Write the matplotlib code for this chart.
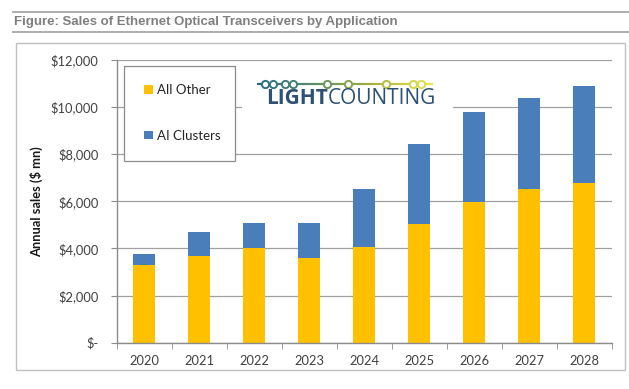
import matplotlib
matplotlib.use("Agg")
import matplotlib.pyplot as plt
from matplotlib.patches import Rectangle, Patch
from matplotlib.lines import Line2D
import numpy as np

# ---- data ----
years = ["2020", "2021", "2022", "2023", "2024", "2025", "2026", "2027", "2028"]
all_other = [3300, 3700, 4000, 3600, 4080, 5030, 5980, 6510, 6770]
ai_clusters = [450, 980, 1100, 1470, 2460, 3410, 3830, 3870, 4130]
y_ticks = [0, 2000, 4000, 6000, 8000, 10000, 12000]
y_tick_labels = ["$-", "$2,000", "$4,000", "$6,000", "$8,000", "$10,000", "$12,000"]
series_names = ["All Other", "AI Clusters"]
title = "Figure: Sales of Ethernet Optical Transceivers by Application"
ylabel = "Annual sales ($ mn)"

W, H = 629, 389
YELLOW = "#FFC000"
BLUE = "#4A7EBB"
GRID = "#A0A0A0"
AXC = "#8C8C8C"

def fx(x):
    return x / W

def fy(y):
    return 1 - y / H

fig = plt.figure(figsize=(W / 100, H / 100), dpi=100)
fig.patch.set_facecolor("white")

# Title and rules
fig.add_artist(Line2D([fx(13), fx(629)], [fy(12), fy(12)], color="#A6A6A6", lw=1.3))
fig.add_artist(Line2D([fx(13), fx(629)], [fy(32), fy(32)], color="#A6A6A6", lw=1.3))
fig.text(fx(14), fy(21.5), title, fontsize=9.5, fontweight="bold", color="#7F7F7F",
         family="Liberation Sans", ha="left", va="center")

# chart frame
fig.add_artist(Rectangle((fx(16), fy(370)), fx(625) - fx(16), fy(43) - fy(370),
                         transform=fig.transFigure, fill=False, ec="#C0C0C0", lw=1.0))

left, right, top, bottom = 116.7, 611.7, 60.0, 342.7
ax = fig.add_axes([fx(left), fy(bottom), fx(right) - fx(left), fy(top) - fy(bottom)])

x = np.arange(len(years))
ax.bar(x, all_other, width=0.41, color=YELLOW, zorder=2)
ax.bar(x, ai_clusters, width=0.41, bottom=all_other, color=BLUE, zorder=2)

ax.set_xlim(-0.5, len(years) - 0.5)
ax.set_ylim(0, 12000)
ax.set_yticks(y_ticks)
ax.set_yticklabels(y_tick_labels)
ax.set_xticks(x)
ax.set_xticklabels(years)
ax.set_xticks(np.arange(-0.5, len(years)), minor=True)

for s in ["top", "right"]:
    ax.spines[s].set_visible(False)
for s in ["left", "bottom"]:
    ax.spines[s].set_color(AXC)
    ax.spines[s].set_linewidth(1.0)

ax.yaxis.grid(True, color=GRID, lw=0.9, zorder=0)
ax.set_axisbelow(True)

tickfont = "Lato"
ax.tick_params(axis="y", direction="out", length=4, color=AXC, pad=9,
               labelsize=9.3, labelcolor="#404040")
ax.tick_params(axis="x", which="major", length=0, pad=9, labelsize=9.3, labelcolor="#404040")
ax.tick_params(axis="x", which="minor", direction="out", length=4, color=AXC)
for lab in ax.get_xticklabels() + ax.get_yticklabels():
    lab.set_family(tickfont)

ax.set_ylabel(ylabel, fontsize=9.3, fontweight="bold", family=tickfont, color="#1a1a1a")
ax.yaxis.set_label_coords((37 - left) / (right - left), 0.5)
ax.yaxis.label.set_va("center")

# Legend box
fig.add_artist(Rectangle((fx(124), fy(161)), fx(235) - fx(124), fy(66) - fy(161),
                         transform=fig.transFigure, fc="white", ec="#8C8C8C", lw=0.9, zorder=5))
handles = [Patch(facecolor=YELLOW, edgecolor="none"), Patch(facecolor=BLUE, edgecolor="none")]
leg = fig.legend(handles, series_names, loc="upper left",
                 bbox_to_anchor=(fx(144), fy(84)), frameon=False,
                 handlelength=0.65, handleheight=0.65, handletextpad=0.35,
                 labelspacing=2.55, borderpad=0, borderaxespad=0,
                 prop={"family": tickfont, "size": 9.5})
leg.set_zorder(6)
for t in leg.get_texts():
    t.set_color("#262626")

# Logo
fig.add_artist(Rectangle((fx(242), fy(118)), fx(453) - fx(242), fy(63) - fy(118),
                         transform=fig.transFigure, fc="white", ec="none", zorder=3))
ly = fy(83.5)
xs = np.linspace(256.7, 432.7, 40)
cmap = matplotlib.colors.LinearSegmentedColormap.from_list(
    "lc", ["#236C84", "#5F8F66", "#A7B23E", "#E8E84A"])
for i in range(len(xs) - 1):
    t = i / (len(xs) - 2)
    fig.add_artist(Line2D([fx(xs[i]), fx(xs[i + 1])], [ly, ly], color=cmap(t), lw=1.6,
                          zorder=4, solid_capstyle="butt"))
circ_x = [265.0, 273.0, 284.5, 292.5, 326.5, 347.5, 386.0, 412.5, 420.5]
for cx in circ_x:
    t = (cx - 256.7) / (432.7 - 256.7)
    fig.add_artist(Line2D([fx(cx)], [ly], marker="o", ms=5.2, mfc="white",
                          mec=cmap(t), mew=1.4, zorder=5))
txt1 = fig.text(fx(266), fy(98.5), "LIGHT", fontsize=15, fontweight="bold",
                family="Open Sans", color="#2E5173", ha="left", va="center", zorder=5)
fig.canvas.draw()
bb = txt1.get_window_extent()
fig.text(bb.x1 / fig.bbox.width, fy(98.5), "COUNTING", fontsize=15,
         family="Open Sans", color="#2E5173", ha="left", va="center", zorder=5)

fig.savefig("out.png", dpi=100, facecolor="white")
